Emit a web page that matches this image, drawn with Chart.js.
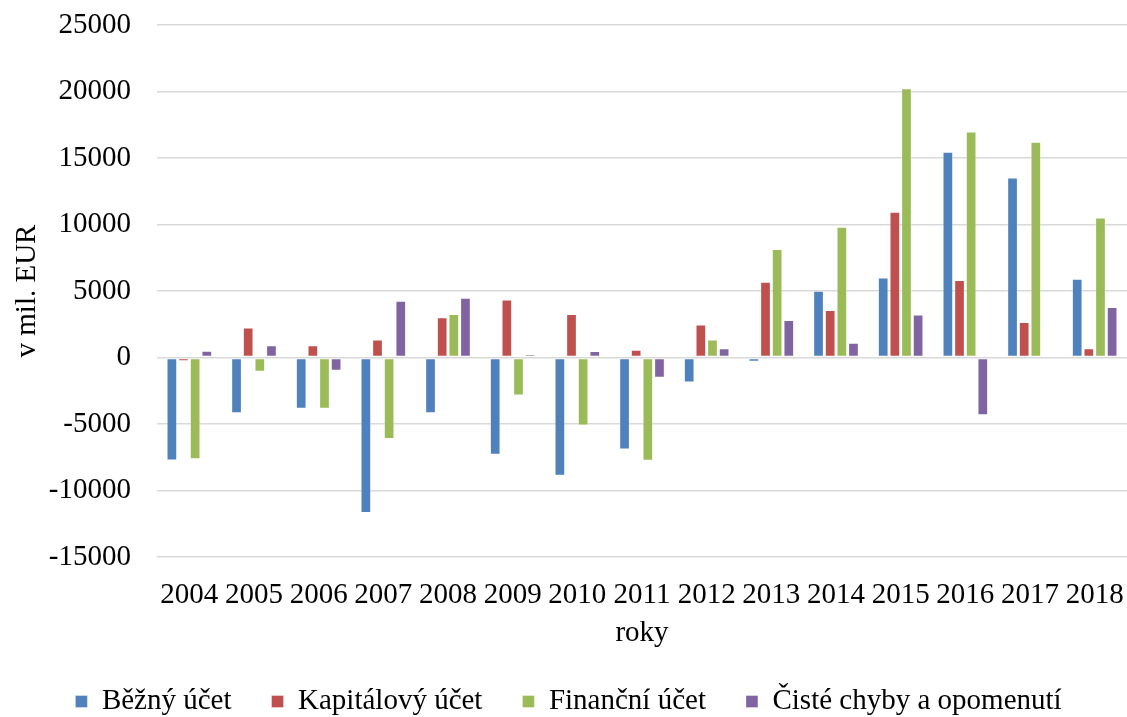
<!DOCTYPE html>
<html lang="cs">
<head>
<meta charset="utf-8">
<title>Platobná bilancia</title>
<script src="https://cdn.jsdelivr.net/npm/chart.js@4/dist/chart.umd.min.js"></script>
<style>
  html, body { margin: 0; padding: 0; background: #fff; }
  #wrap { width: 1127px; height: 717px; position: relative; }
</style>
</head>
<body>
<div id="wrap"><canvas id="c"></canvas></div>
<script>
// Years on the category axis
const roky = ['2004','2005','2006','2007','2008','2009','2010','2011','2012','2013','2014','2015','2016','2017','2018'];

// Balances in millions of EUR
const bezny      = [-7750, -4200, -3860, -11700, -4200, -7320, -8900, -6920, -1880,  -320,  5020,  6020, 15470, 13530,  5920];
const kapitalovy = [ -280,  2250,   930,   1350,  3030,  4360,  3280,   580,  2480,  5700,  3570, 10950,  5830,  2670,   700];
const financni   = [-7650, -1070, -3860,  -6120,  3280, -2860, -5110, -7770,  1350,  8160,  9840, 20250, 16990, 16220, 10520];
const chyby      = [  500,   930, -1000,   4260,  4490,   250,   480, -1530,   700,  2820,  1110,  3240, -4340,     0,  3800];

const seriesNames = ['Běžný účet', 'Kapitálový účet', 'Finanční účet', 'Čisté chyby a opomenutí'];
const seriesColors = ['#4F81BD', '#C0504D', '#9BBB59', '#8064A2'];

// Y axis ticks
const yMin = -15000, yMax = 25000, yStep = 5000;

const FONT = 'Liberation Serif, "Times New Roman", serif';
const FS = 29;

function ds(i, data) {
  return {
    label: seriesNames[i],
    data: data,
    backgroundColor: seriesColors[i],
    borderColor: 'rgba(255,255,255,0.35)',
    borderWidth: 1,
    borderSkipped: false,
    barPercentage: 0.92,
    categoryPercentage: 0.72
  };
}

new Chart(document.getElementById('c'), {
  type: 'bar',
  data: {
    labels: roky,
    datasets: [ds(0, bezny), ds(1, kapitalovy), ds(2, financni), ds(3, chyby)]
  },
  options: {
    responsive: true,
    maintainAspectRatio: false,
    animation: false,
    layout: { padding: { top: 25, right: 0, left: 10, bottom: 0 } },
    plugins: {
      tooltip: { enabled: false },
      title: { display: false },
      legend: {
        position: 'bottom',
        maxHeight: 70,
        labels: {
          font: { family: FONT, size: FS },
          color: '#000',
          boxWidth: 12,
          boxHeight: 12,
          padding: 40
        }
      }
    },
    scales: {
      x: {
        afterFit: (axis) => {
          axis.height = 90;
          axis.paddingLeft = 0;
          axis.paddingRight = 0;
        },
        grid: { display: false, drawTicks: false },
        border: { display: false },
        ticks: {
          font: { family: FONT, size: FS },
          color: '#000',
          padding: 21,
          maxRotation: 0,
          autoSkip: false
        },
        title: {
          display: true,
          text: 'roky',
          font: { family: FONT, size: FS },
          color: '#000',
          padding: { top: 0, bottom: -4 }
        }
      },
      y: {
        min: yMin,
        max: yMax,
        afterFit: (axis) => {
          axis.width = 147;
          axis.paddingTop = 0;
          axis.paddingBottom = 0;
        },
        grid: { color: '#d9d9d9', lineWidth: 1.5, drawTicks: false },
        border: { display: false },
        ticks: {
          stepSize: yStep,
          font: { family: FONT, size: FS },
          color: '#000',
          padding: 26,
          callback: (v) => String(v)
        },
        title: {
          display: true,
          text: 'v mil. EUR',
          font: { family: FONT, size: FS },
          color: '#000',
          padding: { top: 0, bottom: 0 }
        }
      }
    }
  }
});
</script>
</body>
</html>
